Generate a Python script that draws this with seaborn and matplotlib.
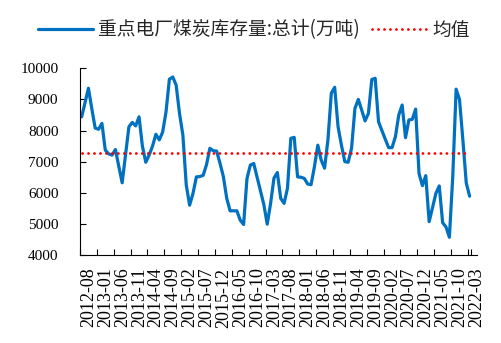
import numpy as np
import pandas as pd
import matplotlib
matplotlib.use("Agg")
import matplotlib.pyplot as plt
import seaborn as sns

# ---- data ----
start_month = "2012-08"
end_month = "2022-03"
stock_values = [
    8440, 8900, 9360, 8700, 8080, 8040, 8230, 7370, 7250, 7210,
    7390, 6850, 6320, 7220, 8120, 8260, 8150, 8440, 7500, 6980,
    7210, 7500, 7880, 7700, 7950, 8600, 9650, 9720, 9460, 8550,
    7850, 6250, 5600, 5980, 6510, 6520, 6560, 6900, 7430, 7350,
    7340, 6950, 6520, 5820, 5420, 5420, 5420, 5120, 4980, 6460,
    6890, 6940, 6500, 6060, 5620, 4990, 5660, 6470, 6650, 5820,
    5660, 6140, 7750, 7780, 6510, 6500, 6460, 6280, 6260, 6840,
    7530, 7050, 6790, 7700, 9200, 9390, 8120, 7530, 7000, 6980,
    7430, 8710, 9000, 8660, 8310, 8550, 9640, 9680, 8280, 8000,
    7720, 7450, 7450, 7800, 8500, 8820, 7770, 8340, 8360, 8690,
    6620, 6230, 6550, 5070, 5520, 5980, 6220, 5040, 4900, 4570,
    6510, 9330, 9000, 7700, 6320, 5890,
]
mean_value = 7270
series_label = "重点电厂煤炭库存量:总计(万吨)"
mean_label = "均值"
y_ticks = [4000, 5000, 6000, 7000, 8000, 9000, 10000]

months = pd.period_range(start_month, end_month, freq="M").strftime("%Y-%m").tolist()
n = len(months)
df = pd.DataFrame({"idx": np.arange(n), "value": stock_values[:n], "mean": [mean_value] * n})

# ---- figure ----
sns.set_theme(style="white")
plt.rcParams["font.family"] = ["Noto Sans CJK SC", "DejaVu Sans"]

fig = plt.figure(figsize=(5.01, 3.43), dpi=100)
ax = fig.add_axes([80 / 501, 1 - 255 / 343, (476.7 - 80) / 501, (255 - 68.3) / 343])

sns.lineplot(data=df, x="idx", y="value", ax=ax, color="#0070C0", linewidth=2.3,
             label=series_label, solid_joinstyle="round")
sns.lineplot(data=df, x="idx", y="mean", ax=ax, color="#FF0000", linewidth=2.0,
             linestyle=(0, (0.05, 2.1)), dash_capstyle="round", label=mean_label)

ax.set_xlim(-0.5, n - 0.5)
ax.set_ylim(4000, 10000)
ax.set_xlabel("")
ax.set_ylabel("")

# y axis
ax.set_yticks(y_ticks)
ax.set_yticklabels([str(v) for v in y_ticks], fontfamily="Liberation Serif", fontsize=11)
ax.tick_params(axis="y", direction="in", length=4, width=0.8, color="black", pad=15.5,
               labelcolor="black", left=True)

# x axis: tick marks at category boundaries every 5, labels between
tick_pos = list(np.arange(-0.5, n - 0.5, 5)) + [n - 0.5]
ax.set_xticks(tick_pos, minor=True)
ax.tick_params(axis="x", which="minor", direction="in", length=4, width=0.8,
               color="black", bottom=True)
label_idx = list(range(0, n, 5))
ax.set_xticks([i + 2.1 for i in label_idx])
ax.set_xticklabels([months[i] for i in label_idx], rotation=90,
                   fontfamily="Liberation Serif", fontsize=13, va="top", ha="center")
ax.tick_params(axis="x", which="major", length=0, pad=9, labelcolor="black")

for side in ["top", "right"]:
    ax.spines[side].set_visible(False)
for side in ["left", "bottom"]:
    ax.spines[side].set_color("black")
    ax.spines[side].set_linewidth(0.8)

ax.grid(False)

handles, labels = ax.get_legend_handles_labels()
if ax.get_legend() is not None:
    ax.get_legend().remove()
fig.legend(handles, labels, loc="center", bbox_to_anchor=(254 / 501, 1 - 30 / 343),
           ncol=2, frameon=False, handlelength=2.9, handletextpad=0.3,
           columnspacing=0.65, prop={"family": ["Noto Sans CJK SC", "DejaVu Sans"], "size": 13.5})

fig.savefig("out.png", dpi=100, facecolor="white")
